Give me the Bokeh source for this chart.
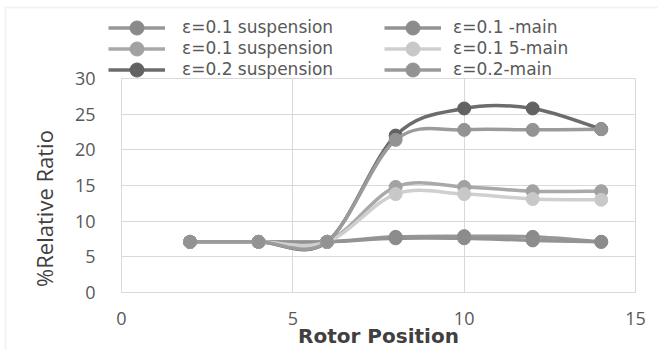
import numpy as np
from bokeh.plotting import figure
from bokeh.models import Legend, LegendItem, Label, BoxAnnotation, FixedTicker, Range1d
from bokeh.embed import file_html
from bokeh.resources import INLINE

# Relative ratio (%) at each rotor position
rotor_position = [2, 4, 6, 8, 10, 12, 14]
eps01_suspension_a = [7.1, 7.1, 7.1, 7.8, 7.9, 7.8, 7.1]
eps01_suspension_b = [7.1, 7.1, 7.1, 14.8, 14.8, 14.2, 14.2]
eps02_suspension = [7.1, 7.1, 7.1, 22.0, 25.8, 25.8, 22.9]
eps01_main = [7.1, 7.1, 7.1, 7.6, 7.6, 7.3, 7.1]
eps015_main = [7.1, 7.1, 7.1, 13.8, 13.8, 13.1, 13.0]
eps02_main = [7.1, 7.1, 7.1, 21.4, 22.8, 22.8, 22.9]

series_labels = ["ε=0.1 suspension", "ε=0.1 suspension", "ε=0.2 suspension",
                 "ε=0.1 -main", "ε=0.1 5-main", "ε=0.2-main"]
x_ticks = [0, 5, 10, 15]
y_ticks = [0, 5, 10, 15, 20, 25, 30]

series = [eps01_suspension_a, eps01_suspension_b, eps02_suspension,
          eps01_main, eps015_main, eps02_main]
line_colors = ["#979797", "#a9a9a9", "#6c6c6c", "#939393", "#cfcfcf", "#9b9b9b"]
marker_colors = ["#8a8a8a", "#a2a2a2", "#626262", "#8c8c8c", "#c8c8c8", "#939393"]

FONT = "Open Sans"
WIDE_FONT = "DejaVu Sans"
TEXT = "#595959"
GRID = "#d9d9d9"

# Canvas and plotting-area geometry (pixels)
W, H = 658, 350
AREA_LEFT, AREA_RIGHT, AREA_TOP, AREA_BOTTOM = 121, 635, 78, 292

x0, x1 = x_ticks[0], x_ticks[-1]
y0, y1 = y_ticks[0], y_ticks[-1]
kx = (AREA_RIGHT - AREA_LEFT) / (x1 - x0)
ky = (AREA_BOTTOM - AREA_TOP) / (y1 - y0)
x_range = Range1d(x0 - AREA_LEFT / kx, x1 + (W - AREA_RIGHT) / kx)
y_range = Range1d(y0 - (H - AREA_BOTTOM) / ky, y1 + AREA_TOP / ky)


def smooth_segments(xs, ys):
    """Cubic Bezier segments (Catmull-Rom style) through the given points."""
    out = {}
    for key, v in (("x", xs), ("y", ys)):
        v = np.asarray(v, dtype=float)
        n = len(v)
        vp = np.concatenate([[v[0]], v, [v[-1]]])
        p_prev, p0, p1, p_next = vp[0:n - 1], vp[1:n], vp[2:n + 1], vp[3:n + 2]
        out[key + "0"] = p0
        out[key + "1"] = p1
        out["c" + key + "0"] = p0 + (p1 - p_prev) / 6.0
        out["c" + key + "1"] = p1 - (p_next - p0) / 6.0
    return out


p = figure(width=W, height=H, output_backend="svg", toolbar_location=None,
           title=None, x_range=x_range, y_range=y_range,
           min_border=0, min_border_left=0, min_border_right=0,
           min_border_top=0, min_border_bottom=0)
p.background_fill_color = "white"
p.border_fill_color = "white"
p.outline_line_color = None

# Grid lines limited to the plotting area
p.xgrid.grid_line_color = GRID
p.ygrid.grid_line_color = GRID
p.xgrid.cross_bounds = (y0, y1)
p.ygrid.cross_bounds = (x0, x1)

# Axes pinned to the data origin so they take no outer space
p.xaxis.fixed_location = y0
p.yaxis.fixed_location = x0
p.xaxis.bounds = (x0, x1)
p.yaxis.bounds = (y0, y1)
p.xaxis.ticker = FixedTicker(ticks=x_ticks)
p.yaxis.ticker = FixedTicker(ticks=y_ticks)
for ax in (p.xaxis[0], p.yaxis[0]):
    ax.axis_line_color = None
    ax.major_tick_line_color = None
    ax.minor_tick_line_color = None
    ax.major_label_text_font = FONT
    ax.major_label_text_font_size = "18px"
    ax.major_label_text_color = TEXT
p.xaxis.major_label_standoff = 13
p.yaxis.major_label_standoff = 20

p.xaxis.axis_label = "Rotor Position"
p.xaxis.axis_label_text_font = WIDE_FONT
p.xaxis.axis_label_text_font_size = "20px"
p.xaxis.axis_label_text_font_style = "bold"
p.xaxis.axis_label_text_color = "#404040"
p.xaxis.axis_label_standoff = -4

# Plot-area outline and the light chart-area border
p.add_layout(BoxAnnotation(left=x0, right=x1, bottom=y0, top=y1,
                           fill_alpha=0, line_color=GRID, line_width=1))
p.add_layout(BoxAnnotation(left=5, right=W + 50, top=H - 7, bottom=-50,
                           left_units="screen", right_units="screen",
                           top_units="screen", bottom_units="screen",
                           fill_alpha=0, line_color="#d4d4d4", line_width=2))

items = []
for vals, label, lc, mc in zip(series, series_labels, line_colors, marker_colors):
    seg = smooth_segments(rotor_position, vals)
    br = p.bezier(line_color=lc, line_width=3.5, **seg)
    sr = p.scatter(rotor_position, vals, marker="circle", size=13,
                   fill_color=mc, line_color=mc, line_width=1)
    items.append(LegendItem(label=label, renderers=[br, sr]))

# Legend: two columns of three rows, one small legend per entry
ROW_H = 35
row_centers = [27, 48, 69]
columns = [(108, 17), (384, 12)]
for i, item in enumerate(items):
    gx, standoff = columns[i // 3]
    cy = row_centers[i % 3]
    p.add_layout(Legend(items=[item], location=(gx, H - cy - ROW_H / 2),
                        orientation="vertical", padding=0, margin=0, spacing=0,
                        glyph_width=57, glyph_height=ROW_H, label_height=ROW_H,
                        label_standoff=standoff,
                        label_text_font=WIDE_FONT, label_text_font_size="17px",
                        label_text_color=TEXT,
                        border_line_alpha=0, background_fill_alpha=0))

p.add_layout(Label(x=43, y=H - 208, x_units="screen", y_units="screen",
                   text="%Relative Ratio", angle=np.pi / 2,
                   text_align="center", text_baseline="middle",
                   text_font=FONT, text_font_size="22px", text_color="#404040"))

open("out.html", "w").write(file_html(p, INLINE))
